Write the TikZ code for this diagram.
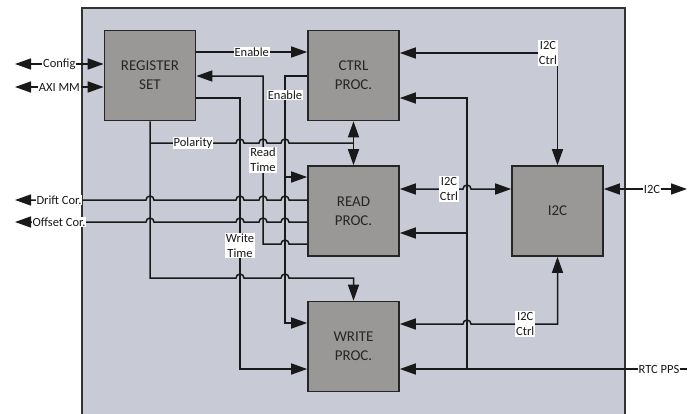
\documentclass[tikz,border=0pt]{standalone}
\usepackage{fontspec}
\setmainfont{Carlito}
\usetikzlibrary{arrows.meta}
\definecolor{bgc}{HTML}{C8CBD6}
\definecolor{boxc}{HTML}{999896}
\definecolor{edgec}{HTML}{262626}
\begin{document}
\begin{tikzpicture}[x=1pt,y=-1pt,
  blk/.style={draw=edgec, line width=1.6pt, fill=boxc, minimum width=91pt, minimum height=90pt, inner sep=0pt, align=center, font=\fontsize{15}{19}\selectfont, text=black!85},
  lbl/.style={fill=white, inner sep=1pt, align=center, font=\fontsize{12.5}{15}\selectfont, text=black!90},
  wire/.style={line width=1.5pt, draw=black!90},
  outer/.style={fill=bgc, draw=black!80, line width=1.3pt},
  >={Triangle[length=16pt,width=11pt]}]
\useasboundingbox (0,0) rectangle (688,413);
\clip (0,0) rectangle (688,413);
\draw[outer] (82,8) rectangle (625,425);

\node[blk] (reg)   at (150,75.5)  {REGISTER\\SET};
\node[blk] (ctrl)  at (353.5,75.5) {CTRL\\PROC.};
\node[blk] (read)  at (353.5,211)  {READ\\PROC.};
\node[blk] (write) at (353.5,346.5) {WRITE\\PROC.};
\node[blk] (i2c)   at (557.5,211)  {I2C};

\coordinate (cfgL) at (15,64);
\coordinate (axiL) at (15,87);
\coordinate (drL)  at (15,200);
\coordinate (ofL)  at (15,222);
\coordinate (i2cR) at (687,189);
\coordinate (rtcR) at (687,369);
\coordinate (enJ)  at (285,177);
\coordinate (rtJ)  at (467,233);

% left side
\draw[wire,<->] (cfgL) -- node[lbl]{Config} (reg.west |- cfgL);
\draw[wire,<->] (axiL) -- node[lbl]{AXI MM} (reg.west |- axiL);
\draw[wire,->] (reg.east |- 0,52) -- node[lbl]{Enable} (ctrl.west |- 0,52);
\draw[wire,<-] (reg.east |- 0,76) -- (263,76) -- node[lbl]{Read\\Time} (263,244) -- (281,244) arc(180:360:4) -- (read.west |- 0,244);
\draw[wire,->] (reg.east |- 0,98) -- (240,98) -- (240,210) -- node[lbl]{Write\\Time} (240,281) -- (240,369) -- (write.west |- 0,369);
\draw[wire,->] (ctrl.west |- 0,76) -- (285,76) -- node[lbl]{Enable} (285,114) -- (285,323) -- (write.west |- 0,323);
\draw[wire,->] (enJ) -- (read.west |- enJ);

% polarity
\draw[wire,->] (reg.south) -- (reg.south |- 0,278) -- (236,278) arc(180:360:4) -- (281,278) arc(180:360:4) -- (write.north |- 0,278) -- (write.north);
\draw[wire] (reg.south |- 0,143) -- node[lbl]{Polarity} (236,143) arc(180:360:4) -- (259,143) arc(180:360:4) -- (281,143) arc(180:360:4) -- (ctrl.south |- 0,143);
\draw[wire,<->] (ctrl.south) -- (read.north);

% drift / offset
\draw[wire,<-] (drL) -- node[lbl]{Drift Cor.} (103,200) -- (146,200) arc(180:360:4) -- (236,200) arc(180:360:4) -- (259,200) arc(180:360:4) -- (281,200) arc(180:360:4) -- (read.west |- drL);
\draw[wire,<-] (ofL) -- node[lbl]{Offset Cor.} (103,222) -- (146,222) arc(180:360:4) -- (236,222) arc(180:360:4) -- (259,222) arc(180:360:4) -- (281,222) arc(180:360:4) -- (read.west |- ofL);

% right side
\draw[wire,<->] (ctrl.east |- 0,53) -- (i2c.north |- 0,53) -- (i2c.north);
\node[lbl] (lt) at (548,53) {I2C\\Ctrl};
\draw[wire,<-] (ctrl.east |- 0,98) -- (467,98) -- (467,369);
\draw[wire,<-] (read.east |- rtJ) -- (rtJ);
\draw[wire,<-] (write.east |- rtcR) -- (631,369) -- node[lbl]{RTC PPS} (rtcR);
\draw[wire,<->] (read.east |- 0,189) -- (435,189) -- node[lbl]{I2C\\Ctrl} (463,189) arc(180:360:4) -- (i2c.west |- 0,189);
\draw[wire,<->] (i2c.east |- i2cR) -- node[lbl,pos=0.58]{I2C} (i2cR);
\draw[wire,<->] (write.east |- 0,324) -- (463,324) arc(180:360:4) -- (493,324) -- node[lbl]{I2C\\Ctrl} (i2c.south |- 0,324) -- (i2c.south);
\end{tikzpicture}
\end{document}
